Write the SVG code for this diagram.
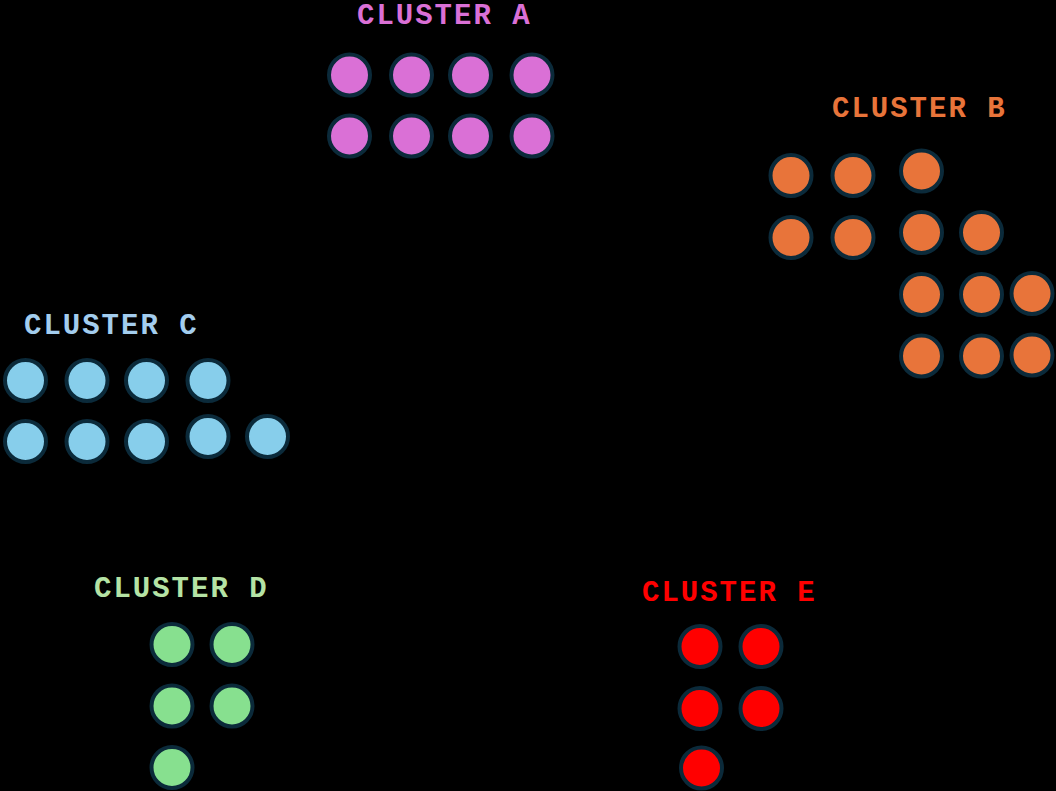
<svg xmlns="http://www.w3.org/2000/svg" width="1056" height="791" viewBox="0 0 1056 791">
<style>
text{font-family:"Liberation Mono","Courier New",monospace;font-weight:bold;font-size:29px;letter-spacing:2px}
circle{stroke:#0b2a3a;stroke-width:4}
.a{fill:#da70d6}.b{fill:#e8743a}.c{fill:#87ceeb}.d{fill:#87e08f}.e{fill:#ff0000}
</style>
<rect width="1056" height="791" fill="#000"/>
<g id="connectors"/>
<g id="clusterA">
<text x="357" y="24" fill="#da70d6">CLUSTER A</text>
<circle class="a" cx="349.5" cy="75" r="20.5"/><circle class="a" cx="411.5" cy="75" r="20.5"/><circle class="a" cx="470.5" cy="75" r="20.5"/><circle class="a" cx="532" cy="75" r="20.5"/>
<circle class="a" cx="349.5" cy="136" r="20.5"/><circle class="a" cx="411.5" cy="136" r="20.5"/><circle class="a" cx="470.5" cy="136" r="20.5"/><circle class="a" cx="532" cy="136" r="20.5"/>
</g>
<g id="clusterB">
<text x="832" y="117" fill="#e8743a">CLUSTER B</text>
<circle class="b" cx="791" cy="175.5" r="20.5"/><circle class="b" cx="853" cy="175.5" r="20.5"/><circle class="b" cx="921.5" cy="171" r="20.5"/>
<circle class="b" cx="791" cy="237.5" r="20.5"/><circle class="b" cx="853" cy="237.5" r="20.5"/><circle class="b" cx="921.5" cy="232.5" r="20.5"/><circle class="b" cx="981.5" cy="232.5" r="20.5"/>
<circle class="b" cx="921.5" cy="294.5" r="20.5"/><circle class="b" cx="981.5" cy="294.5" r="20.5"/><circle class="b" cx="1032" cy="293.5" r="20.5"/>
<circle class="b" cx="921.5" cy="356" r="20.5"/><circle class="b" cx="981.5" cy="356" r="20.5"/><circle class="b" cx="1032" cy="355" r="20.5"/>
</g>
<g id="clusterC">
<text x="24" y="334" fill="#a3cdee">CLUSTER C</text>
<circle class="c" cx="25.5" cy="380.5" r="20.5"/><circle class="c" cx="87" cy="380.5" r="20.5"/><circle class="c" cx="146.5" cy="380.5" r="20.5"/><circle class="c" cx="208" cy="380.5" r="20.5"/>
<circle class="c" cx="25.5" cy="441.5" r="20.5"/><circle class="c" cx="87" cy="441.5" r="20.5"/><circle class="c" cx="146.5" cy="441.5" r="20.5"/><circle class="c" cx="208" cy="436.5" r="20.5"/><circle class="c" cx="267.5" cy="436.5" r="20.5"/>
</g>
<g id="clusterD">
<text x="94" y="597" fill="#b5e3a5">CLUSTER D</text>
<circle class="d" cx="172" cy="644.5" r="20.5"/><circle class="d" cx="232" cy="644.5" r="20.5"/>
<circle class="d" cx="172" cy="706" r="20.5"/><circle class="d" cx="232" cy="706" r="20.5"/>
<circle class="d" cx="172" cy="767.5" r="20.5"/>
</g>
<g id="clusterE">
<text x="642" y="601" fill="#ff0000">CLUSTER E</text>
<circle class="e" cx="700" cy="646.5" r="20.5"/><circle class="e" cx="761" cy="646.5" r="20.5"/>
<circle class="e" cx="700" cy="708.5" r="20.5"/><circle class="e" cx="761" cy="708.5" r="20.5"/>
<circle class="e" cx="701.5" cy="768" r="20.5"/>
</g>
</svg>
